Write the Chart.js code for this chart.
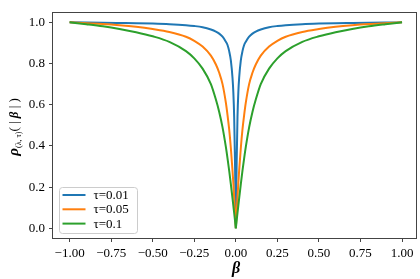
<!DOCTYPE html>
<html><head><meta charset="utf-8">
<script src="https://cdn.jsdelivr.net/npm/chart.js@4.4.0/dist/chart.umd.min.js"></script>
<style>html,body{margin:0;padding:0;background:#fff;}#wrap{width:420px;height:279px;}</style>
</head><body><div id="wrap"><canvas id="c" width="420" height="279"></canvas></div>
<script>
// ---- data ----
const betaValues = [-1, -0.9, -0.8, -0.7, -0.6, -0.5, -0.4, -0.3, -0.25, -0.2, -0.15, -0.12, -0.1, -0.08, -0.06, -0.05, -0.04, -0.03, -0.02, -0.015, -0.01, -0.005, -0.002, 0, 0.002, 0.005, 0.01, 0.015, 0.02, 0.03, 0.04, 0.05, 0.06, 0.08, 0.1, 0.12, 0.15, 0.2, 0.25, 0.3, 0.4, 0.5, 0.6, 0.7, 0.8, 0.9, 1];
const rhoTau001 = [1.0, 0.999, 0.998, 0.997, 0.996, 0.994, 0.991, 0.986, 0.982, 0.976, 0.965, 0.955, 0.945, 0.93, 0.906, 0.89, 0.86, 0.815, 0.73, 0.66, 0.54, 0.32, 0.13, 0, 0.13, 0.32, 0.54, 0.66, 0.73, 0.815, 0.86, 0.89, 0.906, 0.93, 0.945, 0.955, 0.965, 0.976, 0.982, 0.986, 0.991, 0.994, 0.996, 0.997, 0.998, 0.999, 1.0];
const rhoTau005 = [1.0, 0.996, 0.992, 0.986, 0.978, 0.967, 0.953, 0.93, 0.91, 0.882, 0.838, 0.795, 0.755, 0.70, 0.61, 0.55, 0.48, 0.39, 0.28, 0.22, 0.15, 0.075, 0.03, 0, 0.03, 0.075, 0.15, 0.22, 0.28, 0.39, 0.48, 0.55, 0.61, 0.70, 0.755, 0.795, 0.838, 0.882, 0.91, 0.93, 0.953, 0.967, 0.978, 0.986, 0.992, 0.996, 1.0];
const rhoTau01 = [1.0, 0.991, 0.981, 0.968, 0.952, 0.932, 0.905, 0.86, 0.825, 0.775, 0.70, 0.625, 0.565, 0.49, 0.395, 0.34, 0.28, 0.215, 0.145, 0.11, 0.075, 0.038, 0.015, 0, 0.015, 0.038, 0.075, 0.11, 0.145, 0.215, 0.28, 0.34, 0.395, 0.49, 0.565, 0.625, 0.70, 0.775, 0.825, 0.86, 0.905, 0.932, 0.952, 0.968, 0.981, 0.991, 1.0];
const seriesLabels = ['τ=0.01', 'τ=0.05', 'τ=0.1'];
const xTicks = [-1, -0.75, -0.5, -0.25, 0, 0.25, 0.5, 0.75, 1];
const xTickLabels = ['−1.00', '−0.75', '−0.50', '−0.25', '0.00', '0.25', '0.50', '0.75', '1.00'];
const yTicks = [0, 0.2, 0.4, 0.6, 0.8, 1.0];
const yTickLabels = ['0.0', '0.2', '0.4', '0.6', '0.8', '1.0'];
const xAxisTitle = 'β';

const colors = ['#1f77b4', '#ff7f0e', '#2ca02c'];
const SERIF = '"Liberation Serif", "Times New Roman", serif';

// split each curve at the cusp so both halves meet at beta = 0 with a sharp tip
function buildPoints(xs, ys) {
  const pts = [];
  xs.forEach((x, i) => {
    if (x === 0) { pts.push({x: 0, y: ys[i]}, {x: 0, y: null}, {x: 0, y: ys[i]}); }
    else pts.push({x: x, y: ys[i]});
  });
  return pts;
}
const seriesValues = [rhoTau001, rhoTau005, rhoTau01];
const datasets = seriesValues.map((vals, k) => ({
  label: seriesLabels[k],
  data: buildPoints(betaValues, vals),
  borderColor: colors[k],
  backgroundColor: colors[k],
  borderWidth: 2,
  pointRadius: 0,
  fill: false,
  spanGaps: false,
  cubicInterpolationMode: 'monotone',
  order: seriesValues.length - 1 - k
}));

const framePlugin = {
  id: 'frame',
  afterDraw(chart) {
    const ctx = chart.ctx, a = chart.chartArea;
    ctx.save();
    // frame
    ctx.strokeStyle = '#444';
    ctx.lineWidth = 1;
    ctx.strokeRect(Math.round(a.left) - 0.5, Math.round(a.top) + 0.5, Math.round(a.right - a.left), Math.round(a.bottom - a.top));
    // legend
    const bx = a.left + 6.5, by = a.bottom - 50.5, bw = 78, bh = 46, r = 3;
    ctx.beginPath();
    ctx.moveTo(bx + r, by); ctx.lineTo(bx + bw - r, by); ctx.arcTo(bx + bw, by, bx + bw, by + r, r);
    ctx.lineTo(bx + bw, by + bh - r); ctx.arcTo(bx + bw, by + bh, bx + bw - r, by + bh, r);
    ctx.lineTo(bx + r, by + bh); ctx.arcTo(bx, by + bh, bx, by + bh - r, r);
    ctx.lineTo(bx, by + r); ctx.arcTo(bx, by, bx + r, by, r); ctx.closePath();
    ctx.fillStyle = 'rgba(255,255,255,0.8)'; ctx.fill();
    ctx.strokeStyle = '#cccccc'; ctx.stroke();
    chart.data.datasets.forEach((ds, k) => {
      const yy = by + 7.5 + k * 14.3;
      ctx.strokeStyle = ds.borderColor; ctx.lineWidth = 2;
      ctx.beginPath(); ctx.moveTo(bx + 3, yy); ctx.lineTo(bx + 26, yy); ctx.stroke();
      ctx.fillStyle = '#000'; ctx.font = '13px ' + SERIF;
      ctx.textBaseline = 'middle'; ctx.textAlign = 'left';
      ctx.fillText(ds.label, bx + 34, yy + 0.5);
    });
    // x-axis title
    ctx.font = 'italic bold 16px ' + SERIF;
    ctx.textAlign = 'center'; ctx.textBaseline = 'middle'; ctx.fillStyle = '#000';
    ctx.fillText(xAxisTitle, (a.left + a.right) / 2 + 1, 269);
    // y-axis title with subscript
    const pieces = [
      {t: 'ρ', f: 'italic bold 15px ' + SERIF, dy: 0},
      {t: '(λ, τ)', f: '8px ' + SERIF, dy: 3},
      {t: '( | ', f: '13px ' + SERIF, dy: 0},
      {t: 'β', f: 'italic bold 13px ' + SERIF, dy: 0},
      {t: ' | )', f: '13px ' + SERIF, dy: 0}
    ];
    let total = 0;
    pieces.forEach(p => { ctx.font = p.f; p.w = ctx.measureText(p.t).width; total += p.w; });
    ctx.translate(12.5, (a.top + a.bottom) / 2 + 2);
    ctx.rotate(-Math.PI / 2);
    ctx.textAlign = 'left'; ctx.textBaseline = 'alphabetic';
    let xx = -total / 2;
    pieces.forEach(p => { ctx.font = p.f; ctx.fillText(p.t, xx, 5 + p.dy); xx += p.w; });
    ctx.restore();
  }
};

new Chart(document.getElementById('c'), {
  type: 'line',
  data: { datasets: datasets },
  options: {
    responsive: false,
    animation: false,
    devicePixelRatio: 1,
    layout: { padding: { top: 3, right: 3, left: 0, bottom: 0 } },
    plugins: { legend: { display: false }, tooltip: { enabled: false } },
    scales: {
      x: {
        type: 'linear', min: -1.1, max: 1.09,
        afterBuildTicks: s => { s.ticks = xTicks.map(v => ({value: v})); },
        afterFit: s => { s.height = 41; },
        ticks: { callback: v => xTickLabels[xTicks.indexOf(v)], font: { family: SERIF, size: 13 }, color: '#000', padding: 4, maxRotation: 0, autoSkip: false },
        grid: { display: true, drawOnChartArea: false, drawTicks: true, tickLength: 4, color: '#444' },
        border: { display: false }
      },
      y: {
        type: 'linear', min: -0.047, max: 1.051,
        afterBuildTicks: s => { s.ticks = yTicks.map(v => ({value: v})); },
        afterFit: s => { s.width = 53; },
        ticks: { callback: v => yTickLabels[yTicks.indexOf(v)], font: { family: SERIF, size: 13 }, color: '#000', padding: 4, autoSkip: false },
        grid: { display: true, drawOnChartArea: false, drawTicks: true, tickLength: 4, color: '#444' },
        border: { display: false }
      }
    }
  },
  plugins: [framePlugin]
});
</script>
</body></html>
